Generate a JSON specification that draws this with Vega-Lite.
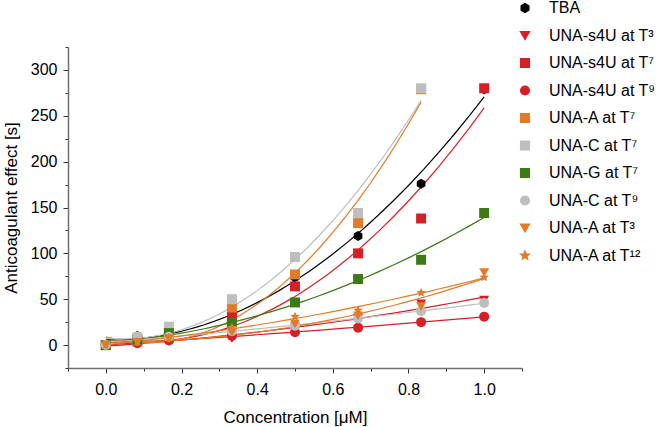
{
  "$schema": "https://vega.github.io/schema/vega-lite/v6.json",
  "width": 454,
  "height": 321,
  "autosize": {"type": "none"},
  "padding": {"left": 68, "top": 47, "right": 138, "bottom": 59},
  "config": {
    "font": "Liberation Sans",
    "view": {"stroke": null},
    "axis": {
      "grid": false,
      "labelFontSize": 16,
      "titleFontSize": 17,
      "titleFontWeight": "normal",
      "labelColor": "#000000",
      "titleColor": "#000000",
      "domainColor": "#707070",
      "domainWidth": 1.5,
      "tickColor": "#333333",
      "tickWidth": 1,
      "labelOverlap": false,
      "labelFlush": false,
      "labelPadding": 5
    },
    "legend": {
      "labelFontSize": 16,
      "labelColor": "#000000",
      "symbolSize": 75,
      "rowPadding": 11.5,
      "labelOffset": 16,
      "padding": 0
    }
  },
  "data": {
    "values": [
      {"series": "TBA", "x": 0, "y": 0},
      {"series": "TBA", "x": 0.0833, "y": 10},
      {"series": "TBA", "x": 0.1667, "y": 13},
      {"series": "TBA", "x": 0.3333, "y": 38},
      {"series": "TBA", "x": 0.5, "y": 74},
      {"series": "TBA", "x": 0.6667, "y": 119},
      {"series": "TBA", "x": 0.8333, "y": 176},
      {"series": "TBA", "x": 1, "y": 279},
      {"series": "UNA-s4U at T³", "x": 0, "y": 0},
      {"series": "UNA-s4U at T³", "x": 0.0833, "y": 2},
      {"series": "UNA-s4U at T³", "x": 0.1667, "y": 4},
      {"series": "UNA-s4U at T³", "x": 0.3333, "y": 7},
      {"series": "UNA-s4U at T³", "x": 0.5, "y": 20},
      {"series": "UNA-s4U at T³", "x": 0.6667, "y": 29},
      {"series": "UNA-s4U at T³", "x": 0.8333, "y": 45},
      {"series": "UNA-s4U at T³", "x": 1, "y": 49},
      {"series": "UNA-s4U at T⁷", "x": 0, "y": 0},
      {"series": "UNA-s4U at T⁷", "x": 0.0833, "y": 4},
      {"series": "UNA-s4U at T⁷", "x": 0.1667, "y": 9},
      {"series": "UNA-s4U at T⁷", "x": 0.3333, "y": 31},
      {"series": "UNA-s4U at T⁷", "x": 0.5, "y": 64},
      {"series": "UNA-s4U at T⁷", "x": 0.6667, "y": 100},
      {"series": "UNA-s4U at T⁷", "x": 0.8333, "y": 138},
      {"series": "UNA-s4U at T⁷", "x": 1, "y": 280},
      {"series": "UNA-s4U at T⁹", "x": 0, "y": 0},
      {"series": "UNA-s4U at T⁹", "x": 0.0833, "y": 2},
      {"series": "UNA-s4U at T⁹", "x": 0.1667, "y": 5},
      {"series": "UNA-s4U at T⁹", "x": 0.3333, "y": 10},
      {"series": "UNA-s4U at T⁹", "x": 0.5, "y": 14},
      {"series": "UNA-s4U at T⁹", "x": 0.6667, "y": 19},
      {"series": "UNA-s4U at T⁹", "x": 0.8333, "y": 25},
      {"series": "UNA-s4U at T⁹", "x": 1, "y": 31},
      {"series": "UNA-A at T⁷", "x": 0, "y": 0},
      {"series": "UNA-A at T⁷", "x": 0.0833, "y": 5},
      {"series": "UNA-A at T⁷", "x": 0.1667, "y": 10},
      {"series": "UNA-A at T⁷", "x": 0.3333, "y": 41},
      {"series": "UNA-A at T⁷", "x": 0.5, "y": 77},
      {"series": "UNA-A at T⁷", "x": 0.6667, "y": 133},
      {"series": "UNA-A at T⁷", "x": 0.8333, "y": 279},
      {"series": "UNA-C at T⁷", "x": 0, "y": 0},
      {"series": "UNA-C at T⁷", "x": 0.0833, "y": 8},
      {"series": "UNA-C at T⁷", "x": 0.1667, "y": 20},
      {"series": "UNA-C at T⁷", "x": 0.3333, "y": 50},
      {"series": "UNA-C at T⁷", "x": 0.5, "y": 96},
      {"series": "UNA-C at T⁷", "x": 0.6667, "y": 144},
      {"series": "UNA-C at T⁷", "x": 0.8333, "y": 280},
      {"series": "UNA-G at T⁷", "x": 0, "y": 0},
      {"series": "UNA-G at T⁷", "x": 0.0833, "y": 6},
      {"series": "UNA-G at T⁷", "x": 0.1667, "y": 13},
      {"series": "UNA-G at T⁷", "x": 0.3333, "y": 25},
      {"series": "UNA-G at T⁷", "x": 0.5, "y": 46.5},
      {"series": "UNA-G at T⁷", "x": 0.6667, "y": 72},
      {"series": "UNA-G at T⁷", "x": 0.8333, "y": 93},
      {"series": "UNA-G at T⁷", "x": 1, "y": 144},
      {"series": "UNA-C at T⁹", "x": 0, "y": 0},
      {"series": "UNA-C at T⁹", "x": 0.0833, "y": 9},
      {"series": "UNA-C at T⁹", "x": 0.1667, "y": 9},
      {"series": "UNA-C at T⁹", "x": 0.3333, "y": 15},
      {"series": "UNA-C at T⁹", "x": 0.5, "y": 21},
      {"series": "UNA-C at T⁹", "x": 0.6667, "y": 29},
      {"series": "UNA-C at T⁹", "x": 0.8333, "y": 37},
      {"series": "UNA-C at T⁹", "x": 1, "y": 46},
      {"series": "UNA-A at T³", "x": 0, "y": 0},
      {"series": "UNA-A at T³", "x": 0.0833, "y": 3},
      {"series": "UNA-A at T³", "x": 0.1667, "y": 7},
      {"series": "UNA-A at T³", "x": 0.3333, "y": 14},
      {"series": "UNA-A at T³", "x": 0.5, "y": 23},
      {"series": "UNA-A at T³", "x": 0.6667, "y": 32},
      {"series": "UNA-A at T³", "x": 0.8333, "y": 42},
      {"series": "UNA-A at T³", "x": 1, "y": 79},
      {"series": "UNA-A at T¹²", "x": 0, "y": 0},
      {"series": "UNA-A at T¹²", "x": 0.0833, "y": 4},
      {"series": "UNA-A at T¹²", "x": 0.1667, "y": 8},
      {"series": "UNA-A at T¹²", "x": 0.3333, "y": 19},
      {"series": "UNA-A at T¹²", "x": 0.5, "y": 31},
      {"series": "UNA-A at T¹²", "x": 0.6667, "y": 38},
      {"series": "UNA-A at T¹²", "x": 0.8333, "y": 57},
      {"series": "UNA-A at T¹²", "x": 1, "y": 74}
    ]
  },
  "encoding": {
    "x": {
      "field": "x",
      "type": "quantitative",
      "scale": {"domain": [-0.1, 1.1], "nice": false, "zero": false},
      "axis": {
        "title": "Concentration [μM]",
        "values": [-0.1, 0, 0.1, 0.2, 0.3, 0.4, 0.5, 0.6, 0.7, 0.8, 0.9, 1.0, 1.1],
        "labelExpr": "abs(round(datum.value*10)%2)==1 ? '' : format(datum.value, '.1f')",
        "tickSize": {"condition": {"test": "abs(round(datum.value*10)%2)==1", "value": 3}, "value": 5},
        "labelPadding": 8,
        "titlePadding": 12
      }
    },
    "y": {
      "field": "y",
      "type": "quantitative",
      "scale": {"domain": [-25, 325], "nice": false, "zero": false},
      "axis": {
        "title": "Anticoagulant effect [s]",
        "values": [-25, 0, 25, 50, 75, 100, 125, 150, 175, 200, 225, 250, 275, 300, 325],
        "labelExpr": "datum.value % 50 == 0 ? format(datum.value, 'd') : ''",
        "tickSize": {"condition": {"test": "datum.value % 50 != 0", "value": 3}, "value": 5},
        "labelPadding": 6,
        "titlePadding": 10
      }
    },
    "color": {
      "field": "series",
      "type": "nominal",
      "scale": {
        "domain": ["TBA", "UNA-s4U at T³", "UNA-s4U at T⁷", "UNA-s4U at T⁹", "UNA-A at T⁷", "UNA-C at T⁷", "UNA-G at T⁷", "UNA-C at T⁹", "UNA-A at T³", "UNA-A at T¹²"],
        "range": ["#000000", "#D42026", "#D42026", "#D42026", "#E07B2A", "#BEBEBE", "#3D7A16", "#BEBEBE", "#E07B2A", "#E07B2A"]
      },
      "legend": {"title": null, "orient": "none", "legendX": 449, "legendY": -47}
    }
  },
  "layer": [
    {
      "transform": [
        {"regression": "y", "on": "x", "groupby": ["series"], "method": "poly", "order": 2}
      ],
      "mark": {"type": "line", "strokeWidth": 1.2, "clip": true}
    },
    {
      "mark": {"type": "point", "filled": true, "opacity": 1, "size": 100, "strokeWidth": 0},
      "encoding": {
        "shape": {
          "field": "series",
          "type": "nominal",
          "scale": {
            "domain": ["TBA", "UNA-s4U at T³", "UNA-s4U at T⁷", "UNA-s4U at T⁹", "UNA-A at T⁷", "UNA-C at T⁷", "UNA-G at T⁷", "UNA-C at T⁹", "UNA-A at T³", "UNA-A at T¹²"],
            "range": [
              "M0,-1L0.866,-0.5L0.866,0.5L0,1L-0.866,0.5L-0.866,-0.5Z",
              "triangle-down",
              "square",
              "circle",
              "square",
              "square",
              "square",
              "circle",
              "triangle-down",
              "M0,-1L0.265,-0.364L0.951,-0.309L0.428,0.139L0.588,0.809L0,0.45L-0.588,0.809L-0.428,0.139L-0.951,-0.309L-0.265,-0.364Z"
            ]
          },
          "legend": {"title": null, "orient": "none", "legendX": 449, "legendY": -47}
        }
      }
    }
  ]
}
